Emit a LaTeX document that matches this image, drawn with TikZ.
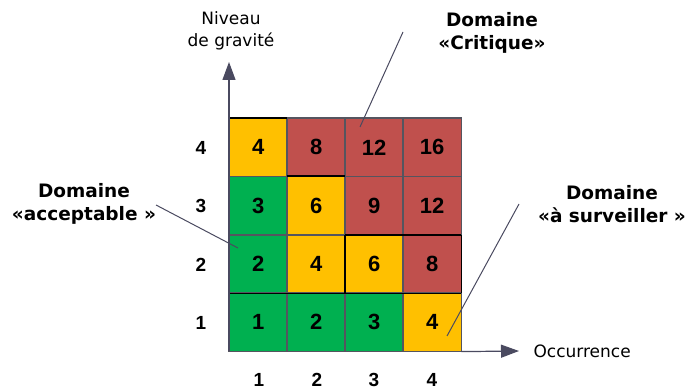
\documentclass[tikz,border=0pt]{standalone}
\usepackage{fontspec}
\setmainfont{DejaVu Sans}
\newfontfamily\digitfont{Liberation Sans}
\usetikzlibrary{arrows.meta}
\definecolor{cgreen}{HTML}{00B050}
\definecolor{cyellow}{HTML}{FFC000}
\definecolor{cred}{HTML}{C0504D}
\definecolor{cline}{HTML}{4A4A60}
\definecolor{cgrid}{HTML}{55555F}
\tikzset{
  cell/.style={draw=none, minimum width=58pt, minimum height=58.3pt,
    inner sep=0pt, font=\digitfont\fontsize{22}{22}\selectfont\bfseries, anchor=north west},
  gridline/.style={draw=cgrid, line width=1.5pt},
  darkline/.style={draw=black, line width=1.6pt},
  axis/.style={draw=cline, line width=1.2pt, -{Triangle[length=18pt,width=13pt]}},
  leader/.style={draw=cline, line width=1pt},
  dom/.style={font=\fontsize{18.5}{22.5}\selectfont\bfseries, align=center},
  tick/.style={font=\digitfont\fontsize{19}{19}\selectfont\bfseries},
  axlabel/.style={font=\fontsize{17}{21.5}\selectfont, align=center}
}
\begin{document}
\begin{tikzpicture}[x=1pt,y=-1pt]
\useasboundingbox (0,0) rectangle (685,390);
% risk matrix cells, rows from top (gravity 4) to bottom (gravity 1)
\foreach \r/\g in {0/4,1/3,2/2,3/1}{
  \foreach \c/\o in {0/1,1/2,2/3,3/4}{
    \pgfmathtruncatemacro{\v}{\g*\o}
    \pgfmathsetmacro{\fillname}{\v<=3 ? "cgreen" : (\v<=6 ? "cyellow" : "cred")}
    \node[cell, fill=\fillname] (c\o\g) at ({229+58*\c},{118+58.3*\r}) {\v};
  }
}
% cell borders
\foreach \o in {1,...,4}{
  \foreach \g in {1,...,4}{
    \draw[gridline] (c\o\g.north west) rectangle (c\o\g.south east);
  }
}
% darker edges around the middle band
\draw[darkline] (c14.north west) -- (c14.north east);
\draw[darkline] (c23.north west) -- (c23.north east);
\draw[darkline] (c33.south west) -- (c43.south east);
\draw[darkline] (c32.north west) -- (c32.south west);
\draw[darkline] (c42.north east) -- (c42.south east);
\draw[darkline] (c12.south west) -- (c42.south east);
% axes
\coordinate (o) at (229,351);
\coordinate (ytip) at (229,62);
\coordinate (xtip) at (519,351);
\draw[axis] (o) -- (ytip);
\draw[axis] (c41.south east) -- (xtip);
\node[axlabel] (ylab) at (231,31) {Niveau\\de gravité};
\node[axlabel, anchor=west] (xlab) at (530,351) {Occurrence};
% tick labels
\foreach \g/\y in {4/148,3/206,2/265,1/323}{
  \node[tick] (g\g) at (201,\y) {\g};
}
\foreach \o/\x in {1/259,2/317,3/374,4/432}{
  \node[tick] (o\o) at (\x,380) {\o};
}
% domain labels with leaders
\node[dom] (crit) at (492,33) {Domaine\\«Critique»};
\node[dom] (acc) at (84,204) {Domaine\\«acceptable »};
\node[dom] (surv) at (612,204) {Domaine\\«à surveiller »};
\coordinate (critA) at (403,32);
\coordinate (critB) at (360,127);
\coordinate (accA) at (156,205);
\coordinate (accB) at (238,248);
\coordinate (survA) at (519,204);
\coordinate (survB) at (447,336);
\draw[leader] (critA) -- (critB);
\draw[leader] (accA) -- (accB);
\draw[leader] (survA) -- (survB);
\end{tikzpicture}
\end{document}
